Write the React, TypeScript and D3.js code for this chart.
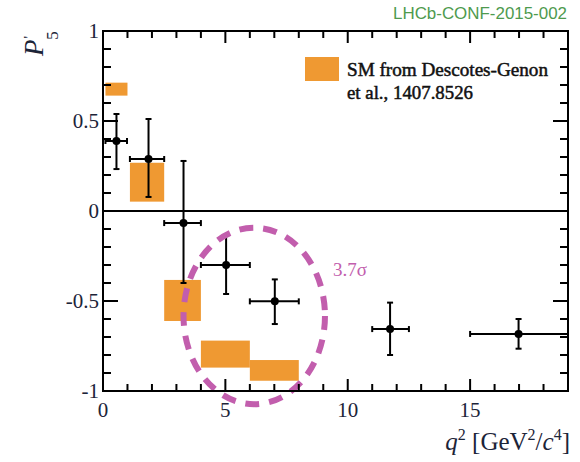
import React from "react";
import * as d3 from "d3";

// q^2 bins of the LHCb measurement
const binLo = [0.1, 1.1, 2.5, 4, 6, 11, 15];
const binHi = [0.98, 2.5, 4, 6, 8, 12.5, 19];
const binMid = [0.55, 1.86, 3.29, 5.03, 7.02, 11.73, 16.98];
const p5 = [0.389, 0.289, -0.067, -0.3, -0.502, -0.656, -0.683];
const errUp = [0.15, 0.222, 0.345, 0.161, 0.122, 0.147, 0.083];
const errDown = [0.156, 0.211, 0.333, 0.161, 0.126, 0.144, 0.082];

// SM prediction boxes
const smLo = [0.1, 1.1, 2.5, 4, 6];
const smHi = [1.0, 2.5, 4, 6, 8];
const smMin = [0.641, 0.052, -0.611, -0.87, -0.943];
const smMax = [0.713, 0.268, -0.383, -0.72, -0.828];

// 3.7 sigma region
const ellipseCenter = [6.18, -0.583];
const ellipseRadii = [2.89, 0.49];

const xTicks = [0, 5, 10, 15];
const yTicks = [-1, -0.5, 0, 0.5, 1];

const W = 580;
const H = 462;
const left = 103;
const right = 568;
const top = 31;
const bottom = 391;
const orange = "#EF9932";
const magenta = "#C25EAD";
const ink = "#1c2438";
const serif = "'Liberation Serif', 'DejaVu Serif', serif";

const App = () => {
  const x = d3.scaleLinear().domain([0, 19]).range([left, right]);
  const y = d3.scaleLinear().domain([-1, 1]).range([bottom, top]);

  const xMinor = d3.range(0, 20, 1);
  const yMinor = d3.range(-10, 11).map(d => d / 10);

  const cx = x(ellipseCenter[0]);
  const cy = y(ellipseCenter[1]);
  const rx = x(ellipseCenter[0] + ellipseRadii[0]) - cx;
  const ry = cy - y(ellipseCenter[1] + ellipseRadii[1]);

  const cap = 3;

  return (
    <svg width={W} height={H} style={{ position: "absolute", left: 0, top: 0 }}>
      <rect width={W} height={H} fill="white" />
      <text x={393} y={19} fontFamily="'Liberation Sans', Arial, sans-serif" fontSize={16.5}
        fill="#4E9A4E" textLength={174} lengthAdjust="spacingAndGlyphs">LHCb-CONF-2015-002</text>

      {/* SM boxes */}
      {smLo.map((lo, i) => (
        <rect key={"sm" + i} x={x(lo)} y={y(smMax[i])} width={x(smHi[i]) - x(lo)}
          height={y(smMin[i]) - y(smMax[i])} fill={orange} />
      ))}

      {/* zero line */}
      <line x1={left} x2={right} y1={y(0)} y2={y(0)} stroke="black" strokeWidth={2} />

      {/* data points */}
      {p5.map((v, i) => (
        <g key={"pt" + i} stroke="black" strokeWidth={2}>
          <line x1={x(binLo[i])} x2={x(Math.min(binHi[i], 19))} y1={y(v)} y2={y(v)} />
          <line x1={x(binMid[i])} x2={x(binMid[i])} y1={y(v + errUp[i])} y2={y(v - errDown[i])} />
          <line x1={x(binLo[i])} x2={x(binLo[i])} y1={y(v) - cap} y2={y(v) + cap} />
          {binHi[i] < 19 && <line x1={x(binHi[i])} x2={x(binHi[i])} y1={y(v) - cap} y2={y(v) + cap} />}
          <line x1={x(binMid[i]) - cap} x2={x(binMid[i]) + cap} y1={y(v + errUp[i])} y2={y(v + errUp[i])} />
          <line x1={x(binMid[i]) - cap} x2={x(binMid[i]) + cap} y1={y(v - errDown[i])} y2={y(v - errDown[i])} />
          <circle cx={x(binMid[i])} cy={y(v)} r={4} fill="black" stroke="none" />
        </g>
      ))}

      {/* significance ellipse */}
      <ellipse cx={cx} cy={cy} rx={rx} ry={ry} fill="none" stroke={magenta}
        strokeWidth={6} strokeDasharray="14 10" />
      <text x={333} y={276} fontFamily={serif} fontSize={19} fill={magenta}>3.7σ</text>

      {/* legend */}
      <rect x={305} y={57} width={34} height={24} fill={orange} />
      <g fontFamily={serif} fontSize={19} fill="#111" stroke="#111" strokeWidth={0.5}>
        <text x={347} y={76} textLength={201} lengthAdjust="spacingAndGlyphs">SM from Descotes-Genon</text>
        <text x={347} y={99} textLength={126} lengthAdjust="spacingAndGlyphs">et al., 1407.8526</text>
      </g>

      {/* frame */}
      <rect x={left} y={top} width={right - left} height={bottom - top} fill="none" stroke="black" strokeWidth={2} />

      {/* x ticks bottom & top */}
      {xMinor.map(t => {
        const major = t % 5 === 0;
        const len = major ? 12 : 7;
        return (
          <g key={"xt" + t} stroke="black" strokeWidth={2}>
            <line x1={x(t)} x2={x(t)} y1={bottom} y2={bottom - len} />
            <line x1={x(t)} x2={x(t)} y1={top} y2={top + len} />
          </g>
        );
      })}
      {/* y ticks left & right */}
      {yMinor.map((t, i) => {
        const major = (i % 5) === 0;
        const len = major ? 15 : 8;
        return (
          <g key={"yt" + i} stroke="black" strokeWidth={2}>
            <line x1={left} x2={left + len} y1={y(t)} y2={y(t)} />
            <line x1={right} x2={right - len} y1={y(t)} y2={y(t)} />
          </g>
        );
      })}

      {xTicks.map(t => (
        <text key={"xl" + t} x={x(t)} y={417} textAnchor="middle" fontFamily={serif}
          fontSize={21} fill={ink}>{t}</text>
      ))}
      {yTicks.map(t => (
        <text key={"yl" + t} x={99} y={y(t) + 7} textAnchor="end" fontFamily={serif}
          fontSize={21} fill={ink}>{String(t)}</text>
      ))}

      {/* axis titles */}
      <text x={570} y={450} textAnchor="end" fontFamily={serif} fontSize={25} fill={ink}>
        <tspan fontStyle="italic">q</tspan>
        <tspan dy={-10} fontSize={16}>2</tspan>
        <tspan dy={10}> [GeV</tspan>
        <tspan dy={-10} fontSize={16}>2</tspan>
        <tspan dy={10}>/</tspan>
        <tspan fontStyle="italic">c</tspan>
        <tspan dy={-10} fontSize={16}>4</tspan>
        <tspan dy={10}>]</tspan>
      </text>
      <g transform="translate(43,56) rotate(-90)">
        <text fontFamily={serif} fontSize={27} fill={ink}>
          <tspan fontStyle="italic">P</tspan>
          <tspan dx={1} dy={-9} fontSize={15}>'</tspan>
          <tspan dx={-4} dy={24} fontSize={17}>5</tspan>
        </text>
      </g>
    </svg>
  );
};

export default App;
